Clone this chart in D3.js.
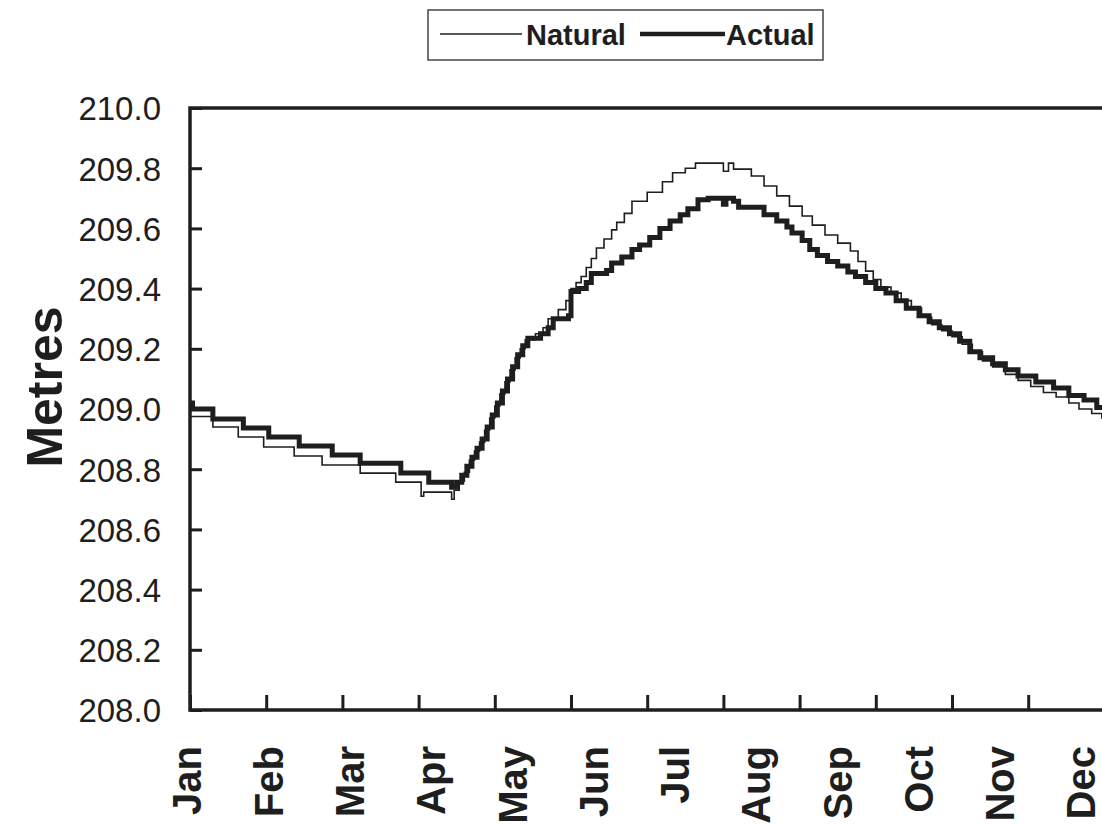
<!DOCTYPE html>
<html>
<head>
<meta charset="utf-8">
<script src="https://cdn.jsdelivr.net/npm/d3@7"></script>
<style>
  body { margin: 0; background: #fff; }
  svg { display: block; font-family: "Liberation Sans", Arial, sans-serif; }
</style>
</head>
<body>
<script>
// month names shown on the x axis
var months = ["Jan", "Feb", "Mar", "Apr", "May", "Jun", "Jul", "Aug", "Sep", "Oct", "Nov", "Dec"];
// tick marks every 30 days, labels every 32 days (as on the original)
var tickDays = [0, 30, 60, 90, 120, 150, 180, 210, 240, 270, 300, 330, 360];
var labelDays = [0, 32, 64, 96, 128, 160, 192, 224, 256, 288, 320, 352];
var yTicks = [208.0, 208.2, 208.4, 208.6, 208.8, 209.0, 209.2, 209.4, 209.6, 209.8, 210.0];

// water level, step changes: [day, metres]
var natural = [
  [0, 208.975], [9, 208.94], [19, 208.907], [29, 208.874], [41, 208.844], [52, 208.814],
  [67, 208.787], [81, 208.757], [91, 208.71], [92, 208.724], [103, 208.70], [104, 208.73],
  [106, 208.76], [108, 208.79], [110, 208.83], [112, 208.86], [114, 208.89], [116, 208.93],
  [118, 208.97], [120, 209.01], [122, 209.05], [124, 209.09], [126, 209.13], [128, 209.17],
  [130, 209.20], [132, 209.23], [136, 209.25], [139, 209.27], [141, 209.30], [145, 209.33],
  [148, 209.36], [150, 209.40], [152, 209.42], [154, 209.44], [156, 209.47], [158, 209.50],
  [160, 209.535], [163, 209.565], [166, 209.595], [168, 209.62], [171, 209.65], [174, 209.69],
  [180, 209.72], [186, 209.755], [190, 209.785], [195, 209.80], [199, 209.817], [210, 209.79],
  [212, 209.817], [214, 209.797], [221, 209.774], [226, 209.741], [231, 209.708], [236, 209.674],
  [241, 209.641], [245, 209.611], [250, 209.578], [255, 209.551], [260, 209.525], [263, 209.49],
  [266, 209.458], [269, 209.43], [272, 209.405], [276, 209.385], [280, 209.36], [284, 209.335],
  [288, 209.305], [292, 209.28], [296, 209.26], [300, 209.24], [304, 209.215], [308, 209.19],
  [312, 209.16], [316, 209.14], [321, 209.115], [326, 209.095], [331, 209.075], [336, 209.055],
  [341, 209.04], [346, 209.02], [350, 209.0], [355, 208.985], [359, 208.97], [363, 208.955],
  [365, 208.955]
];
var actual = [
  [0, 209.02], [1, 209.00], [9, 208.967], [21, 208.937], [31, 208.907], [43, 208.877],
  [56, 208.847], [67, 208.82], [83, 208.787], [94, 208.757], [103, 208.74], [105, 208.757],
  [107, 208.78], [109, 208.81], [111, 208.84], [113, 208.87], [115, 208.90], [117, 208.94],
  [119, 208.98], [121, 209.02], [123, 209.06], [125, 209.10], [127, 209.14], [129, 209.18],
  [131, 209.21], [133, 209.235], [138, 209.25], [141, 209.27], [143, 209.30], [149, 209.31],
  [150, 209.39], [153, 209.40], [156, 209.42], [158, 209.45], [164, 209.46], [166, 209.485],
  [170, 209.505], [174, 209.53], [177, 209.545], [181, 209.57], [185, 209.60], [189, 209.625],
  [193, 209.645], [196, 209.665], [200, 209.695], [204, 209.70], [210, 209.68], [211, 209.70],
  [214, 209.69], [216, 209.67], [226, 209.645], [231, 209.625], [235, 209.605], [237, 209.585],
  [241, 209.56], [244, 209.53], [247, 209.51], [251, 209.49], [255, 209.475], [259, 209.455],
  [262, 209.44], [266, 209.42], [270, 209.40], [274, 209.385], [278, 209.36], [282, 209.335],
  [287, 209.31], [291, 209.29], [295, 209.27], [299, 209.25], [303, 209.225], [307, 209.19],
  [311, 209.17], [316, 209.15], [321, 209.13], [326, 209.11], [333, 209.09], [340, 209.07],
  [346, 209.045], [352, 209.03], [357, 209.005], [362, 208.99], [365, 208.99]
];

var ink = "#1e1e1e";

var svg = d3.select("body").append("svg")
            .attr("width", 1102)
            .attr("height", 828);

var x = d3.scaleLinear().domain([0, 365]).range([190, 190 + 365 * 2.54]);
var y = d3.scaleLinear().domain([208, 210]).range([710, 108]);

// plot lines
var line = d3.line()
             .x(function (d) { return x(d[0]); })
             .y(function (d) { return y(d[1]); })
             .curve(d3.curveStepAfter);

svg.append("path")
   .datum(natural)
   .attr("d", line)
   .attr("fill", "none")
   .attr("stroke", ink)
   .attr("stroke-width", 1.6);

svg.append("path")
   .datum(actual)
   .attr("d", line)
   .attr("fill", "none")
   .attr("stroke", ink)
   .attr("stroke-width", 5);

// frame
svg.append("rect")
   .attr("x", x(0))
   .attr("y", y(210))
   .attr("width", x(365) - x(0))
   .attr("height", y(208) - y(210))
   .attr("fill", "none")
   .attr("stroke", ink)
   .attr("stroke-width", 3.5);

// y axis, ticks pointing inward
var yAxis = svg.append("g")
               .attr("transform", "translate(" + x(0) + ",0)")
               .call(d3.axisLeft(y).tickValues(yTicks).tickFormat(d3.format(".1f"))
                       .tickSize(-12).tickPadding(29));
yAxis.select(".domain").remove();
yAxis.selectAll("line").attr("stroke", ink).attr("stroke-width", 3);
yAxis.selectAll("text")
     .attr("fill", ink)
     .style("font-size", "33px")
     .attr("dy", "0.36em");

// x axis, ticks only
var xAxis = svg.append("g")
               .attr("transform", "translate(0," + y(208) + ")")
               .call(d3.axisBottom(x).tickValues(tickDays).tickFormat("").tickSize(-15));
xAxis.select(".domain").remove();
xAxis.selectAll("line").attr("stroke", ink).attr("stroke-width", 3);

// month labels
svg.selectAll(".month")
   .data(months)
   .enter()
   .append("text")
   .attr("class", "month")
   .attr("transform", function (d, i) { return "translate(" + (x(labelDays[i]) - 3) + ",746) rotate(-90)"; })
   .attr("dy", "0.36em")
   .attr("text-anchor", "end")
   .attr("fill", ink)
   .style("font-size", "40px")
   .style("font-weight", "bold")
   .text(function (d) { return d; });

// y title
svg.append("text")
   .attr("transform", "translate(44,387) rotate(-90)")
   .attr("dy", "0.36em")
   .attr("text-anchor", "middle")
   .attr("fill", ink)
   .style("font-size", "50px")
   .style("font-weight", "bold")
   .text("Metres");

// legend
var legend = svg.append("g");
legend.append("rect")
      .attr("x", 428).attr("y", 10)
      .attr("width", 395).attr("height", 50)
      .attr("fill", "none")
      .attr("stroke", "#444")
      .attr("stroke-width", 1.5);
legend.append("line")
      .attr("x1", 440).attr("x2", 522).attr("y1", 34).attr("y2", 34)
      .attr("stroke", ink).attr("stroke-width", 1.6);
legend.append("text")
      .attr("x", 526).attr("y", 45)
      .attr("fill", ink)
      .style("font-size", "29px")
      .style("font-weight", "bold")
      .text("Natural");
legend.append("line")
      .attr("x1", 640).attr("x2", 725).attr("y1", 34).attr("y2", 34)
      .attr("stroke", ink).attr("stroke-width", 4.5);
legend.append("text")
      .attr("x", 726).attr("y", 45)
      .attr("fill", ink)
      .style("font-size", "29px")
      .style("font-weight", "bold")
      .text("Actual");
</script>
</body>
</html>
